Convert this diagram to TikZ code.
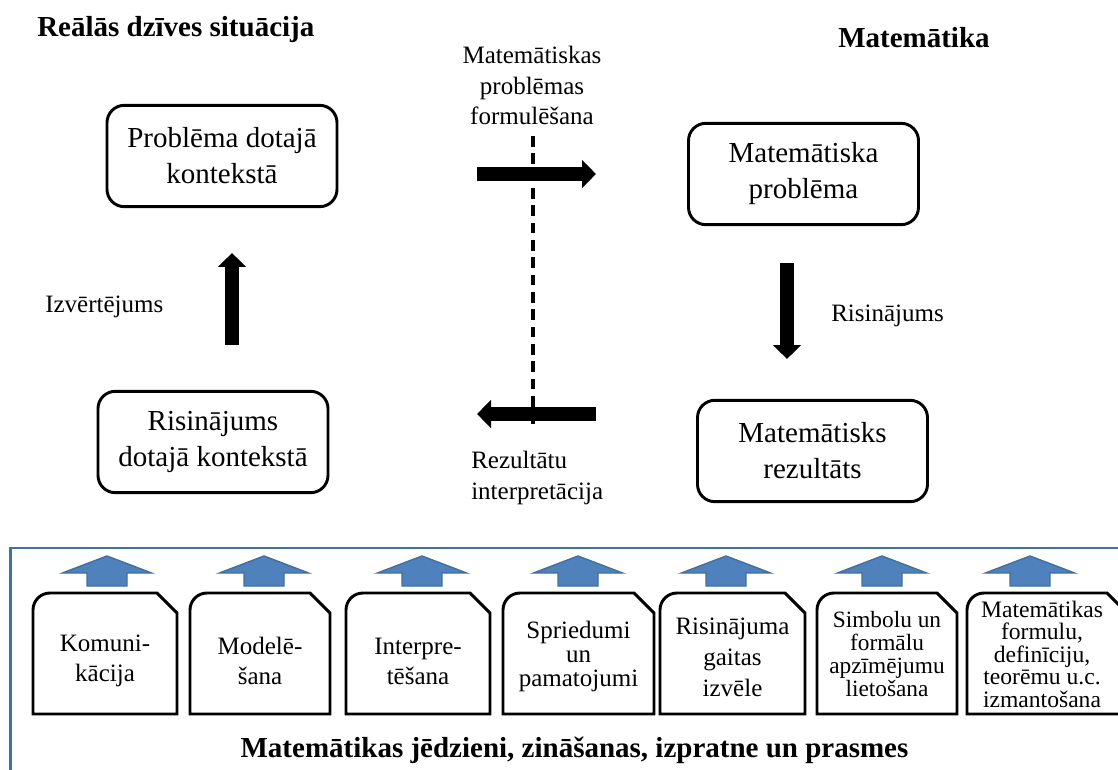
\documentclass[tikz,border=0pt]{standalone}
\usepackage{fontspec}
\setmainfont{Liberation Serif}
\usepackage{xcolor}
\usetikzlibrary{arrows.meta}
\definecolor{panelblue}{HTML}{41719C}
\definecolor{fillblue}{HTML}{4F81BD}

\begin{document}
\begin{tikzpicture}[x=0.75pt,y=-0.75pt,
    stagebox/.style={draw,line width=2.2pt,rounded corners=13pt,minimum width=172.5pt,minimum height=76pt,inner sep=0pt,align=center,font=\fontsize{21.75}{27}\selectfont},
    phaselabel/.style={inner sep=0pt,font=\fontsize{18.75}{23}\selectfont},
    heading/.style={inner sep=0pt,font=\fontsize{21.75}{26}\selectfont\bfseries},
    bigarrow/.style={line width=10.75pt,-{Triangle[length=10.5pt,width=20.5pt]}},
    skillbox/.style={draw,line width=2.2pt,fill=white},
    skilltext/.style={inner sep=0pt,align=center,font=\fontsize{18.75}{22.5}\selectfont},
    skillarrow/.style={draw=panelblue,line width=1.1pt,fill=fillblue}]

  \useasboundingbox (0,0) rectangle (1118,770);
  \clip (0,0) rectangle (1118,770);

  % Titles
  \node[heading,anchor=base west] (real) at (37,37) {Reālās dzīves situācija};
  \node[heading,anchor=base west] (math) at (838,48) {Matemātika};

  % Stages
  \node[stagebox] (prob) at (222,156) {Problēma dotajā\\kontekstā};
  \node[stagebox] (mprob) at (803.5,174) {Matemātiska\\problēma};
  \node[stagebox] (mres) at (812.5,451) {Matemātisks\\rezultāts};
  \node[stagebox] (sol) at (213,442) {Risinājums\\dotajā kontekstā};

  % Cycle arrows
  \coordinate (f1) at (477,174);
  \coordinate (f2) at (596,174);
  \coordinate (s1) at (787,263);
  \coordinate (s2) at (787,359);
  \coordinate (i1) at (596,414);
  \coordinate (i2) at (477,414);
  \coordinate (e1) at (232,345);
  \coordinate (e2) at (232,253);
  \draw[bigarrow] (f1) -- (f2);
  \draw[bigarrow] (s1) -- (s2);
  \draw[bigarrow] (i1) -- (i2);
  \draw[bigarrow] (e1) -- (e2);

  % Separator
  \coordinate (sepTop) at (533,136);
  \coordinate (sepBot) at (533,430);
  \draw[line width=2.8pt,dash pattern=on 8pt off 5pt] (sepTop) -- (sepBot);

  % Labels
  \node[phaselabel,anchor=north,align=center] (formul) at (532,46) {Matemātiskas\\problēmas\\formulēšana};
  \node[phaselabel,anchor=base west] (solve) at (831,321) {Risinājums};
  \node[phaselabel,anchor=north west,align=left] (interp) at (471,451) {Rezultātu\\interpretācija};
  \node[phaselabel,anchor=base west] (eval) at (45,312) {Izvērtējums};

  % Competences
  \draw[panelblue,line width=2.2pt] (10.5,548) rectangle (1140,790);
  \foreach \xc in {107,264,422,578,726,882,1030}
    \draw[skillarrow] (\xc-44.5,573) -- (\xc,556) -- (\xc+44.5,573) -- (\xc+20,573)
      -- (\xc+20,586) -- (\xc-20,586) -- (\xc-20,573) -- cycle;
  \foreach \xa/\xb in {33/177,190/330,346/490,503/654,660/805,817/957,967/1127}
    \draw[skillbox] (\xa,714) -- (\xa,610) arc[start angle=180,end angle=270,radius=17]
      -- (\xb-20,593) -- (\xb,613) -- (\xb,714) -- cycle;

  \node[skilltext] (komu) at (105,661) {Komuni-\\kācija};
  \node[skilltext] (model) at (260,661) {Modelē-\\šana};
  \node[skilltext] (inter) at (418,661) {Interpre-\\tēšana};
  \node[skilltext,font=\fontsize{18.75}{18}\selectfont] (sprie) at (578.5,656) {Spriedumi\\un\\pamatojumi};
  \node[skilltext,font=\fontsize{18.75}{23.25}\selectfont] (gaita) at (732.5,657.5) {Risinājuma\\gaitas\\izvēle};
  \node[skilltext,font=\fontsize{17.5}{17.25}\selectfont] (simb) at (887,654.5) {Simbolu un\\formālu\\apzīmējumu\\lietošana};
  \node[skilltext,font=\fontsize{17.7}{16.9}\selectfont] (form) at (1042,654) {Matemātikas\\formulu,\\definīciju,\\teorēmu u.c.\\izmantošana};

  \node[heading,anchor=base] (base) at (574.5,757) {Matemātikas jēdzieni, zināšanas, izpratne un prasmes};
\end{tikzpicture}
\end{document}
